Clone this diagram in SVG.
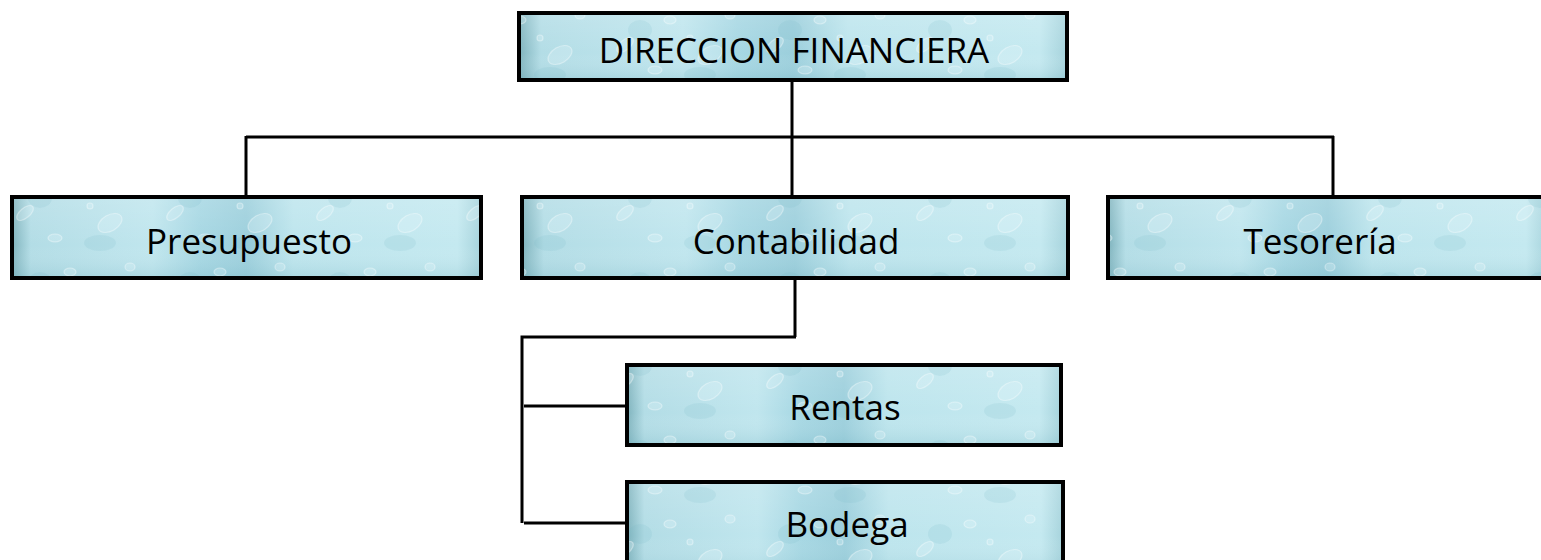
<svg xmlns="http://www.w3.org/2000/svg" width="1541" height="560" viewBox="0 0 1541 560">
  <defs>
    <linearGradient id="bg" x1="0" y1="0" x2="1" y2="0">
      <stop offset="0" stop-color="#7fb3bd"/>
      <stop offset="0.04" stop-color="#b3dde6"/>
      <stop offset="0.3" stop-color="#c0e6ee"/>
      <stop offset="0.4" stop-color="#a6d7e3"/>
      <stop offset="0.5" stop-color="#9ccfdc"/>
      <stop offset="0.6" stop-color="#bde5ed"/>
      <stop offset="0.95" stop-color="#c4e9f0"/>
      <stop offset="1" stop-color="#a6d3dc"/>
    </linearGradient>
    <linearGradient id="shade" x1="0" y1="0" x2="0" y2="1">
      <stop offset="0" stop-color="#ffffff" stop-opacity="0.15"/>
      <stop offset="0.6" stop-color="#ffffff" stop-opacity="0"/>
      <stop offset="1" stop-color="#5fa5b5" stop-opacity="0.2"/>
    </linearGradient>
    <pattern id="drops" patternUnits="userSpaceOnUse" width="150" height="84">
      <g fill="#e6f7fa" fill-opacity="0.25" stroke="#ffffff" stroke-opacity="0.35" stroke-width="1.2">
        <ellipse cx="25" cy="45" rx="10" ry="5" transform="rotate(-40 25 45)"/>
        <ellipse cx="70" cy="20" rx="6" ry="4"/>
        <ellipse cx="110" cy="55" rx="13" ry="8" transform="rotate(-30 110 55)"/>
        <ellipse cx="130" cy="15" rx="5" ry="4"/>
        <ellipse cx="55" cy="70" rx="7" ry="4"/>
        <circle cx="90" cy="38" r="3"/>
      </g>
      <g fill="#6fb3c2" fill-opacity="0.15">
        <ellipse cx="40" cy="30" rx="12" ry="10"/>
        <ellipse cx="100" cy="75" rx="16" ry="8"/>
      </g>
    </pattern>
  </defs>
  <style>
    .box { stroke: #000; stroke-width: 4; }
    .lbl { font-family: "Open Sans", "Liberation Sans", sans-serif; font-size: 35px; fill: #000; text-anchor: middle; }
    .con { stroke: #000; stroke-width: 3; fill: none; }
  </style>

  <g id="connectors">
    <line class="con" x1="792" y1="80" x2="792" y2="196"/>
    <line class="con" x1="246" y1="137" x2="1334" y2="137"/>
    <line class="con" x1="246" y1="136" x2="246" y2="196"/>
    <line class="con" x1="1333" y1="136" x2="1333" y2="196"/>
    <line class="con" x1="795" y1="279" x2="795" y2="337"/>
    <polyline class="con" points="796,337 522,337 522,523"/>
    <line class="con" x1="524" y1="406" x2="627" y2="406"/>
    <line class="con" x1="524" y1="523" x2="627" y2="523"/>
  </g>

  <g id="direccion">
    <rect x="519" y="13" width="548" height="67" fill="url(#bg)"/>
    <rect x="519" y="13" width="548" height="67" fill="url(#shade)"/>
    <rect class="box" x="519" y="13" width="548" height="67" fill="url(#drops)"/>
    <text class="lbl" x="794" y="63">DIRECCION FINANCIERA</text>
  </g>

  <g id="presupuesto">
    <rect x="12" y="197" width="469" height="81" fill="url(#bg)"/>
    <rect x="12" y="197" width="469" height="81" fill="url(#shade)"/>
    <rect class="box" x="12" y="197" width="469" height="81" fill="url(#drops)"/>
    <text class="lbl" x="249" y="254">Presupuesto</text>
  </g>

  <g id="contabilidad">
    <rect x="522" y="197" width="546" height="81" fill="url(#bg)"/>
    <rect x="522" y="197" width="546" height="81" fill="url(#shade)"/>
    <rect class="box" x="522" y="197" width="546" height="81" fill="url(#drops)"/>
    <text class="lbl" x="796" y="254">Contabilidad</text>
  </g>

  <g id="tesoreria">
    <rect x="1108" y="197" width="440" height="81" fill="url(#bg)"/>
    <rect x="1108" y="197" width="440" height="81" fill="url(#shade)"/>
    <rect class="box" x="1108" y="197" width="440" height="81" fill="url(#drops)"/>
    <text class="lbl" x="1320" y="254">Tesorería</text>
  </g>

  <g id="rentas">
    <rect x="627" y="365" width="434" height="80" fill="url(#bg)"/>
    <rect x="627" y="365" width="434" height="80" fill="url(#shade)"/>
    <rect class="box" x="627" y="365" width="434" height="80" fill="url(#drops)"/>
    <text class="lbl" x="845" y="420">Rentas</text>
  </g>

  <g id="bodega">
    <rect x="627" y="482" width="436" height="90" fill="url(#bg)"/>
    <rect x="627" y="482" width="436" height="90" fill="url(#shade)"/>
    <rect class="box" x="627" y="482" width="436" height="90" fill="url(#drops)"/>
    <text class="lbl" x="847" y="537">Bodega</text>
  </g>
</svg>
